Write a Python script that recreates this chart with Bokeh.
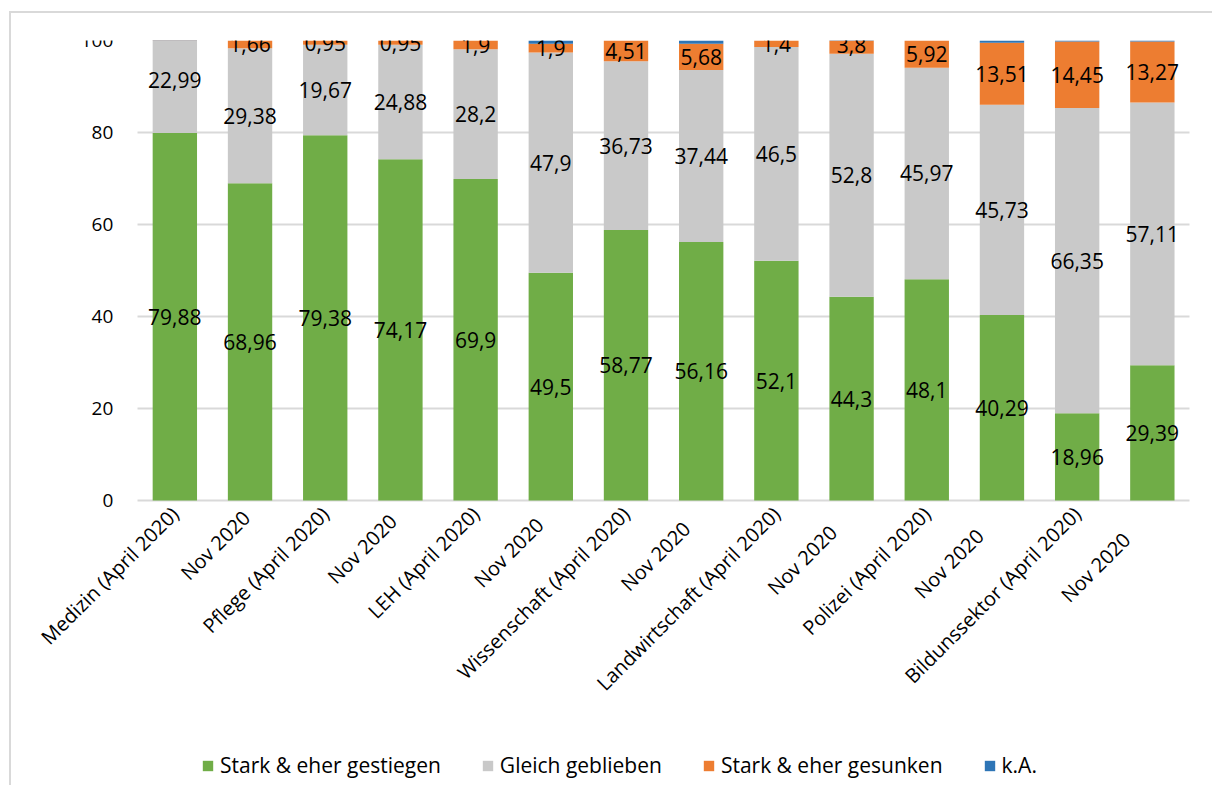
from math import pi
from bokeh.plotting import figure
from bokeh.models import ColumnDataSource, Legend, LegendItem, FixedTicker, LabelSet, FactorRange, Grid
from bokeh.core.properties import value
from bokeh.embed import file_html
from bokeh.resources import INLINE

categories = ["Medizin (April 2020)", "Nov 2020 ", "Pflege (April 2020)", "Nov 2020  ",
              "LEH (April 2020)", "Nov 2020   ", "Wissenschaft (April 2020)", "Nov 2020    ",
              "Landwirtschaft (April 2020)", "Nov 2020     ", "Polizei (April 2020)", "Nov 2020      ",
              "Bildunssektor (April 2020)", "Nov 2020       "]
gestiegen = [79.88, 68.96, 79.38, 74.17, 69.9, 49.5, 58.77, 56.16, 52.1, 44.3, 48.1, 40.29, 18.96, 29.39]
gleich = [22.99, 29.38, 19.67, 24.88, 28.2, 47.9, 36.73, 37.44, 46.5, 52.8, 45.97, 45.73, 66.35, 57.11]
gesunken = [0, 1.66, 0.95, 0.95, 1.9, 1.9, 4.51, 5.68, 1.4, 3.8, 5.92, 13.51, 14.45, 13.27]
ka = [0, 0, 0, 0, 0, 0.7, 0.3, 0.75, 0, 0, 0, 0.47, 0.3, 0.3]
y_ticks = [0, 20, 40, 60, 80, 100]

series_names = ["Stark & eher gestiegen", "Gleich geblieben", "Stark & eher gesunken", "k.A."]
colors = ["#70AD47", "#C9C9C9", "#ED7D31", "#2E75B6"]
FONT = "Open Sans"
N = len(categories)
PAD = "\u200b"  # empty slot left of the first bar, room for the first rotated label

def fmt(v):
    return ("%g" % v).replace(".", ",")

data = {"cat": categories}
keys = ["g", "s", "o", "k"]
vals = [gestiegen, gleich, gesunken, ka]
base = [0.0] * N
for k, vs in zip(keys, vals):
    data[k + "_bot"] = list(base)
    data[k + "_top"] = [min(b + v, 100) for b, v in zip(base, vs)]
    data[k + "_mid"] = [b + v / 2 for b, v in zip(base, vs)]
    data[k + "_lab"] = [fmt(v) if v > 0 else "" for v in vs]
    base = [b + v for b, v in zip(base, vs)]
source = ColumnDataSource(data)

x_range = FactorRange(factors=[PAD] + categories, range_padding=0.3, range_padding_units="absolute")
p = figure(x_range=x_range, y_range=(-62, 100), frame_width=1173, frame_height=745,
           output_backend="svg", toolbar_location=None,
           min_border_left=28, min_border_top=27, min_border_right=0, min_border_bottom=0)
p.margin = (11, 0, 0, 9)

renderers = []
for k, c in zip(keys, colors):
    r = p.vbar(x="cat", bottom=k + "_bot", top=k + "_top", width=0.59, source=source,
               fill_color=c, line_color=None)
    renderers.append(r)

for k in ["g", "s", "o"]:
    lbl = LabelSet(x="cat", y=k + "_mid", text=k + "_lab", source=source,
                   text_align="center", text_baseline="middle",
                   text_font=value(FONT), text_font_size="21px", text_color="#000000")
    p.add_layout(lbl)

p.yaxis.fixed_location = 1
p.yaxis.bounds = (0, 100)
p.yaxis.ticker = FixedTicker(ticks=y_ticks)
p.yaxis.axis_line_color = None
p.yaxis.major_tick_line_color = None
p.yaxis.minor_tick_line_color = None
p.yaxis.major_tick_out = 0
p.yaxis.major_tick_in = 0
p.yaxis.major_label_text_font = FONT
p.yaxis.major_label_text_font_size = "19px"
p.yaxis.major_label_text_color = "#000000"
p.yaxis.major_label_standoff = 24

p.xaxis.fixed_location = 0
p.xaxis.axis_line_color = None
p.xaxis.major_tick_line_color = None
p.xaxis.minor_tick_line_color = None
p.xaxis.major_tick_out = 0
p.xaxis.major_tick_in = 0
p.xaxis.major_label_orientation = pi / 4
p.xaxis.major_label_text_font = FONT
p.xaxis.major_label_text_font_size = "20px"
p.xaxis.major_label_text_color = "#000000"
p.xaxis.major_label_standoff = 10

p.xgrid.grid_line_color = None
if "cross_bounds" in Grid.properties():
    p.ygrid.cross_bounds = (1, N + 1)
    p.ygrid.grid_line_color = "#D9D9D9"
    p.ygrid.grid_line_width = 2
else:
    p.ygrid.grid_line_color = None
    p.segment(x0=[1] * len(y_ticks), x1=[N + 1] * len(y_ticks), y0=y_ticks, y1=y_ticks,
              line_color="#D9D9D9", line_width=2, level="underlay")
p.outline_line_color = None

legend = Legend(items=[LegendItem(label=n, renderers=[r]) for n, r in zip(series_names, renderers)],
                orientation="horizontal", label_text_font=FONT, label_text_font_size="21px",
                label_text_color="#000000", glyph_width=13, glyph_height=13, spacing=40,
                label_standoff=6, border_line_color=None, background_fill_alpha=0,
                location=(162, 6), margin=0, padding=4)
p.add_layout(legend, "center")

p.styles = {"border-left": "2px solid #D9D9D9", "border-top": "2px solid #D9D9D9"}

open("out.html", "w").write(file_html(p, INLINE))
